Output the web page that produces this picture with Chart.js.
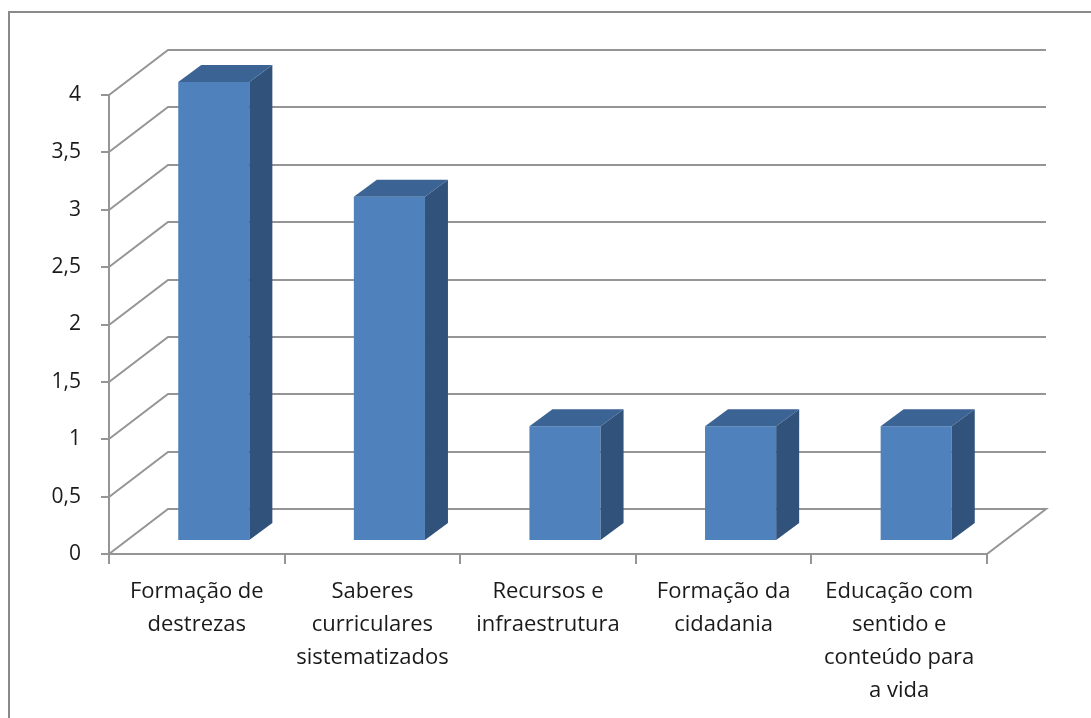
<!DOCTYPE html>
<html>
<head>
<meta charset="utf-8">
<script src="https://cdn.jsdelivr.net/npm/chart.js@4/dist/chart.umd.min.js"></script>
<style>
  html, body { margin: 0; padding: 0; background: #fff; }
  #wrap { width: 1091px; height: 718px; position: relative; }
</style>
</head>
<body>
<div id="wrap"><canvas id="myChart"></canvas></div>
<script>
// data
const categories = [
    ['Formação de', 'destrezas'],
    ['Saberes', 'curriculares', 'sistematizados'],
    ['Recursos e', 'infraestrutura'],
    ['Formação da', 'cidadania'],
    ['Educação com', 'sentido e', 'conteúdo para', 'a vida']
];
const values = [4, 3, 1, 1, 1];
const yMin = 0;
const yMax = 4;
const yStep = 0.5;

// 3d look
const wallDX = 59, wallDY = 45;     // depth of the back wall
const barShiftX = 17, barShiftY = 13; // bars sit a bit behind the front plane
const barDX = 23, barDY = 17;       // depth of each bar
const gridColor = '#959595';

const box3d = {
    id: 'box3d',
    beforeDraw(chart) {
        const ctx = chart.ctx;
        ctx.save();
        ctx.strokeStyle = '#8a8a8a';
        ctx.lineWidth = 2;
        ctx.beginPath();
        ctx.moveTo(9, chart.height + 5);
        ctx.lineTo(9, 12);
        ctx.lineTo(chart.width + 5, 12);
        ctx.stroke();
        ctx.restore();
    },
    beforeDatasetsDraw(chart) {
        const ctx = chart.ctx;
        const y = chart.scales.y;
        const area = chart.chartArea;
        ctx.save();
        ctx.strokeStyle = gridColor;
        ctx.lineWidth = 2;
        y.ticks.forEach(t => {
            const py = Math.round(y.getPixelForValue(t.value));
            ctx.beginPath();
            ctx.moveTo(area.left, py);
            ctx.lineTo(area.left + wallDX, py - wallDY);
            ctx.lineTo(area.right + wallDX, py - wallDY);
            if (t.value === yMin) {
                ctx.lineTo(area.right, py);
            }
            ctx.stroke();
        });
        ctx.restore();
        ctx.save();
        ctx.translate(barShiftX, -barShiftY);
    },
    afterDatasetsDraw(chart) {
        const ctx = chart.ctx;
        const meta = chart.getDatasetMeta(0);
        meta.data.forEach(bar => {
            const p = bar.getProps(['x', 'y', 'base', 'width'], true);
            const left = p.x - p.width / 2;
            const right = p.x + p.width / 2;
            // side face
            ctx.fillStyle = '#31527b';
            ctx.beginPath();
            ctx.moveTo(right, p.y);
            ctx.lineTo(right + barDX, p.y - barDY);
            ctx.lineTo(right + barDX, p.base - barDY);
            ctx.lineTo(right, p.base);
            ctx.closePath();
            ctx.fill();
            // top face
            ctx.fillStyle = '#3b6393';
            ctx.beginPath();
            ctx.moveTo(left, p.y);
            ctx.lineTo(left + barDX, p.y - barDY);
            ctx.lineTo(right + barDX, p.y - barDY);
            ctx.lineTo(right, p.y);
            ctx.closePath();
            ctx.fill();
        });
        ctx.restore();
    }
};

const fontFamily = '"Open Sans", "Noto Sans", sans-serif';

const config = {
    type: 'bar',
    data: {
        labels: categories,
        datasets: [{
            data: values,
            backgroundColor: '#4f81bd',
            borderWidth: 0,
            barPercentage: 0.405,
            categoryPercentage: 1
        }]
    },
    options: {
        responsive: true,
        maintainAspectRatio: false,
        animation: false,
        layout: {
            padding: { left: 0, top: 95, right: 104, bottom: 0 }
        },
        plugins: {
            legend: { display: false },
            tooltip: { enabled: false }
        },
        scales: {
            x: {
                offset: true,
                grid: {
                    offset: true,
                    drawOnChartArea: false,
                    drawTicks: true,
                    tickLength: 10,
                    color: gridColor,
                    lineWidth: 2
                },
                border: { display: true, color: gridColor, width: 2 },
                ticks: {
                    color: '#1a1a1a',
                    font: { family: fontFamily, size: 22, lineHeight: 1.5 },
                    maxRotation: 0,
                    autoSkip: false,
                    padding: 11
                },
                afterFit(scale) { scale.height = 164; }
            },
            y: {
                min: yMin,
                max: yMax,
                grid: {
                    drawOnChartArea: false,
                    drawTicks: true,
                    tickLength: 8,
                    color: gridColor,
                    lineWidth: 2
                },
                border: { display: true, color: gridColor, width: 2 },
                ticks: {
                    stepSize: yStep,
                    color: '#1a1a1a',
                    font: { family: fontFamily, size: 21 },
                    padding: 20,
                    callback: v => String(v).replace('.', ',')
                },
                afterFit(scale) { scale.width = 109; }
            }
        }
    },
    plugins: [box3d]
};

const myChart = new Chart(document.getElementById('myChart'), config);
</script>
</body>
</html>
